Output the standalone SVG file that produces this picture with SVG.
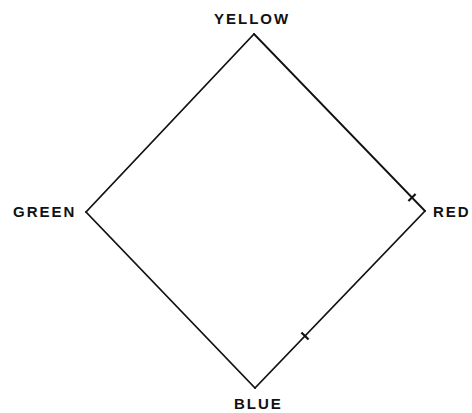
<svg xmlns="http://www.w3.org/2000/svg" width="472" height="413" viewBox="0 0 472 413">
<style>
.lbl{font-family:"Liberation Sans",Arial,sans-serif;font-weight:bold;font-size:15px;letter-spacing:2px;fill:#111}
.edge{stroke:#111;stroke-width:1.8;fill:none;stroke-linecap:round}
.tick{stroke:#111;stroke-width:2.2;stroke-linecap:butt}
</style>
<rect width="472" height="413" fill="#fff"/>
<g id="connectors">
<line class="edge" x1="254" y1="34" x2="425" y2="211"/>
<line class="edge" x1="425" y1="211" x2="255" y2="388"/>
<line class="edge" x1="255" y1="388" x2="86" y2="212"/>
<line class="edge" x1="86" y1="212" x2="254" y2="34"/>
<line class="tick" x1="415.6" y1="194" x2="408.4" y2="201"/>
<line class="tick" x1="308.6" y1="339.5" x2="301.4" y2="332.5"/>
</g>
<g id="yellow"><text class="lbl" x="214" y="24">YELLOW</text></g>
<g id="red"><text class="lbl" x="433" y="217">RED</text></g>
<g id="blue"><text class="lbl" x="234" y="409">BLUE</text></g>
<g id="green"><text class="lbl" x="13" y="217">GREEN</text></g>
</svg>
